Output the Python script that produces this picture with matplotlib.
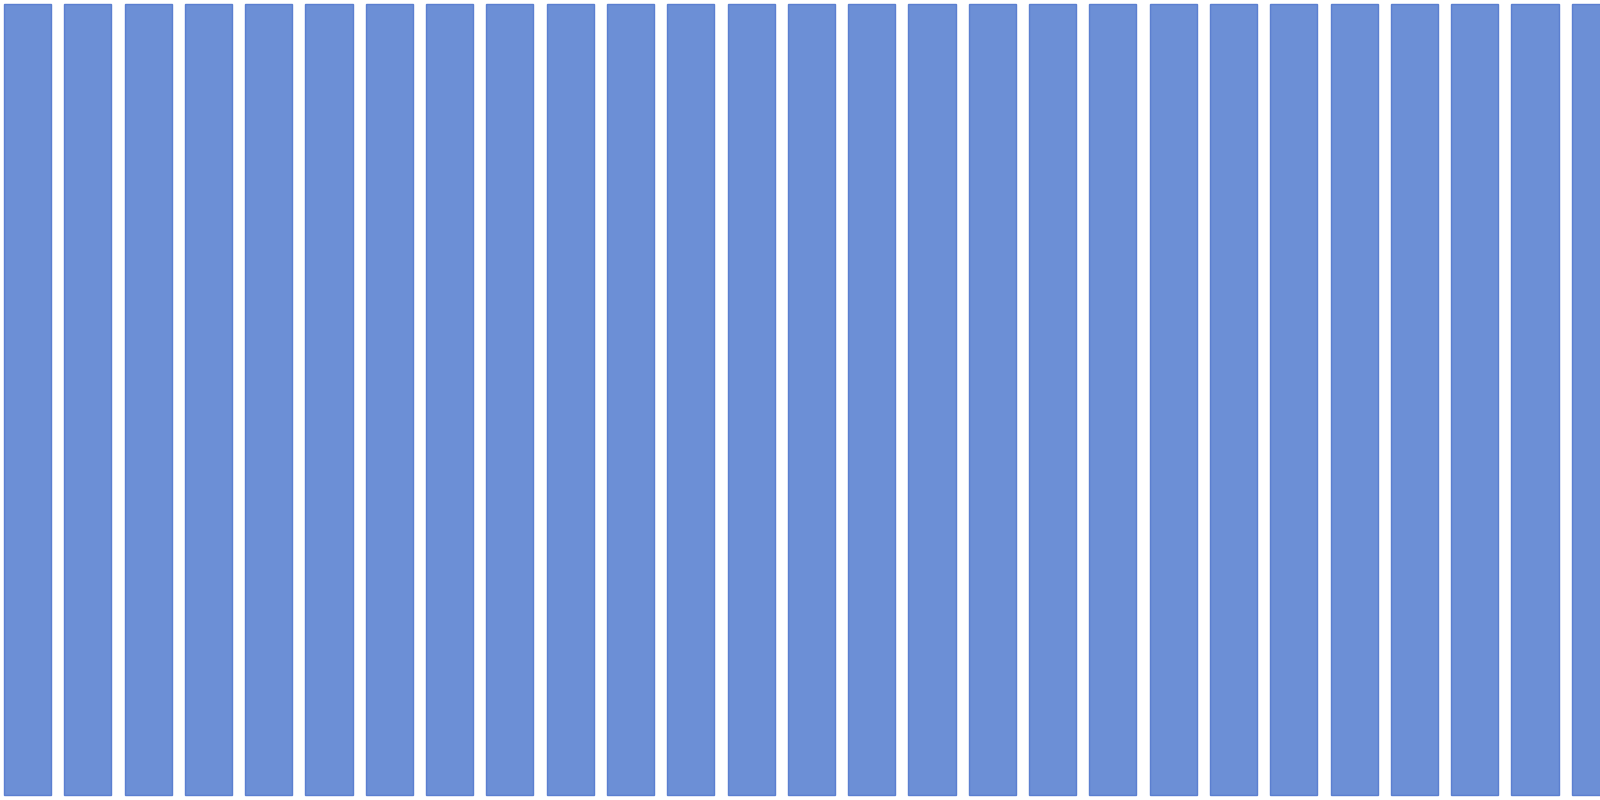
import matplotlib
matplotlib.use("Agg")
import matplotlib.pyplot as plt
import numpy as np

# 27 bars, all the same height (last one runs off the right edge)
categories = [str(i + 1) for i in range(27)]
values = [1.0] * 27

fig = plt.figure(figsize=(16, 8), dpi=100)
ax = fig.add_axes([0, 0, 1, 1])

x = np.arange(len(categories))
ax.bar(x, values, width=0.78, color="#6c8fd6", edgecolor="#5b7fd0", linewidth=1)

# pixel layout of the reference: first bar centre ~27.5px, ~60.3px pitch
pitch = 60.3
ax.set_xlim(-27.5 / pitch, (1600 - 27.5) / pitch)
ax.set_ylim(-5 / 791, 1 + 4 / 791)
ax.axis("off")

fig.savefig("out.png", dpi=100)
